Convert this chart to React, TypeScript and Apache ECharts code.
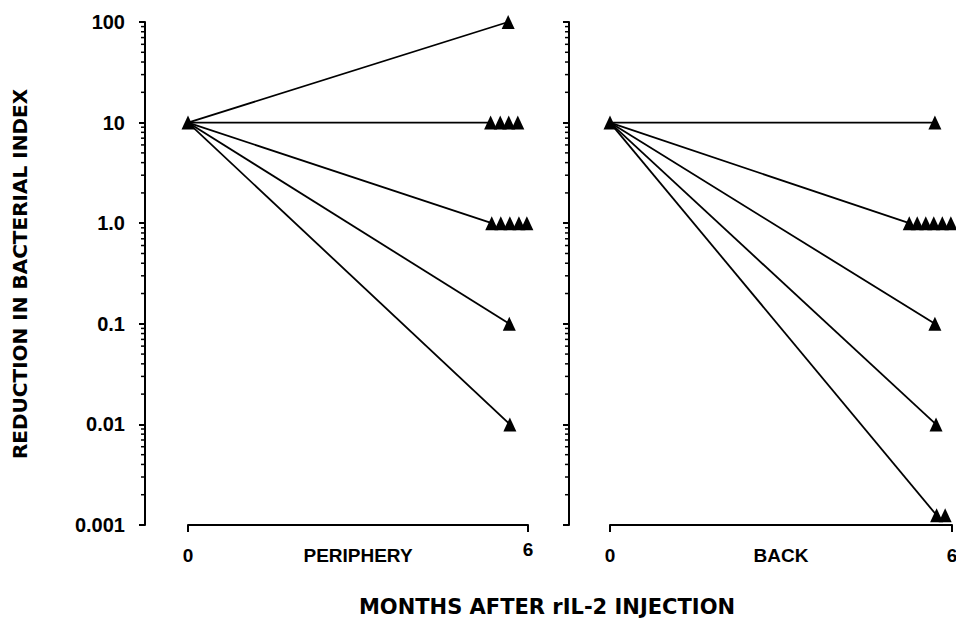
import React, { useEffect, useRef } from "react";
import * as echarts from "echarts";

// ---- data ----
const yTickLabels = ["0.001", "0.01", "0.1", "1.0", "10", "100"];
const decades = [0.001, 0.01, 0.1, 1, 10];
const minorMultipliers = [2, 3, 4, 5, 6, 7, 8, 9];
const xTickLabels = ["0", "6"];

const panelNames = ["PERIPHERY", "BACK"];

const startPoint: [number, number] = [0, 10];

// PERIPHERY: line end points (each line from start), and extra stacked triangles
const periLineEnds: [number, number][] = [
  [5.65, 100],
  [5.34, 10],
  [5.36, 1],
  [5.67, 0.1],
  [5.68, 0.01],
];
const periExtra: [number, number][] = [
  [5.51, 10],
  [5.66, 10],
  [5.82, 10],
  [5.52, 1],
  [5.68, 1],
  [5.84, 1],
  [5.98, 1],
];

// BACK
const backLineEnds: [number, number][] = [
  [5.7, 10],
  [5.25, 1],
  [5.7, 0.1],
  [5.72, 0.01],
  [5.73, 0.00125],
];
const backExtra: [number, number][] = [
  [5.39, 1],
  [5.54, 1],
  [5.68, 1],
  [5.83, 1],
  [5.98, 1],
  [5.88, 0.00125],
];

const yTitle = "REDUCTION IN BACTERIAL INDEX";
const xTitle = "MONTHS AFTER rIL-2 INJECTION";

// ---- styles ----
const FONT = "Liberation Sans, Arial, sans-serif";
const TITLE_FONT = "DejaVu Sans, sans-serif";
const grids = [
  { left: 188, width: 340, offset: 43, showYLabels: true, raiseSix: true },
  { left: 610, width: 342, offset: 41, showYLabels: false, raiseSix: false },
];
const GRID_TOP = 22;
const GRID_H = 503;

export default function App() {
  const ref = useRef<HTMLDivElement>(null);

  useEffect(() => {
    if (!ref.current) return;
    const chart = echarts.init(ref.current, undefined, { renderer: "svg" });

    const minorTicks: number[] = [];
    decades.forEach((d) => minorMultipliers.forEach((m) => minorTicks.push(d * m)));

    const fmtY = (v: number) => {
      const idx = Math.round(Math.log10(v)) + 3;
      return yTickLabels[idx] ?? "";
    };

    const panels = [
      { ends: periLineEnds, extra: periExtra },
      { ends: backLineEnds, extra: backExtra },
    ];

    const series: any[] = [];
    panels.forEach((p, gi) => {
      p.ends.forEach((e) => {
        series.push({
          type: "line",
          xAxisIndex: gi,
          yAxisIndex: gi,
          data: [startPoint, e],
          symbol: "none",
          lineStyle: { color: "#000", width: 1.8 },
          silent: true,
          z: 2,
        });
      });
      series.push({
        type: "scatter",
        xAxisIndex: gi,
        yAxisIndex: gi,
        data: [startPoint, ...p.ends, ...p.extra],
        symbol: "triangle",
        symbolSize: [13, 14],
        itemStyle: { color: "#000", opacity: 1 },
        clip: false,
        silent: true,
        z: 3,
      });
      const off = grids[gi].offset;
      series.push({
        type: "custom",
        xAxisIndex: gi,
        yAxisIndex: gi,
        clip: false,
        silent: true,
        data: minorTicks.map((v) => [0, v]),
        encode: { x: 0, y: 1 },
        renderItem: (params: any, api: any) => {
          const pt = api.coord([0, api.value(1)]);
          const ax = pt[0] - off;
          return {
            type: "line",
            shape: { x1: ax - 4, y1: pt[1], x2: ax, y2: pt[1] },
            style: { stroke: "#000", lineWidth: 1.5 },
          };
        },
      });
    });

    const option: any = {
      animation: false,
      backgroundColor: "#fff",
      grid: grids.map((g) => ({
        left: g.left,
        width: g.width,
        top: GRID_TOP,
        height: GRID_H,
        containLabel: false,
        outerBoundsMode: "none",
      })),
      xAxis: grids.map((g, i) => ({
        type: "value",
        gridIndex: i,
        min: 0,
        max: 6,
        interval: 6,
        splitLine: { show: false },
        axisLine: { show: true, onZero: false, lineStyle: { color: "#000", width: 2 } },
        axisTick: { show: true, length: 7, lineStyle: { color: "#000", width: 2 } },
        axisLabel: {
          color: "#000",
          fontSize: 19,
          fontWeight: "bold",
          fontFamily: FONT,
          margin: 21,
          formatter: (v: number) =>
            v === 0
              ? xTickLabels[0]
              : v === 6
              ? g.raiseSix
                ? `{up|${xTickLabels[1]}}`
                : xTickLabels[1]
              : "",
          rich: {
            up: {
              color: "#000",
              fontSize: 19,
              fontWeight: "bold",
              fontFamily: FONT,
              lineHeight: 6,
            },
          },
        },
        name: panelNames[i],
        nameLocation: "middle",
        nameGap: 21,
        nameMoveOverlap: false,
        nameTextStyle: { color: "#000", fontSize: 19, fontWeight: "bold", fontFamily: FONT },
      })),
      yAxis: grids.map((g, i) => ({
        type: "log",
        logBase: 10,
        gridIndex: i,
        min: 0.001,
        max: 100,
        splitNumber: 5,
        offset: g.offset,
        splitLine: { show: false },
        axisLine: { show: true, onZero: false, lineStyle: { color: "#000", width: 2 } },
        axisTick: { show: true, length: 6, lineStyle: { color: "#000", width: 2 } },
        minorTick: { show: false },
        axisLabel: {
          show: g.showYLabels,
          color: "#000",
          fontSize: 20,
          fontWeight: "bold",
          fontFamily: FONT,
          margin: 20,
          formatter: fmtY,
        },
      })),
      graphic: [
        {
          type: "text",
          x: 20,
          y: 274,
          rotation: Math.PI / 2,
          style: {
            text: yTitle,
            font: `bold 20px ${TITLE_FONT}`,
            fill: "#000",
            textAlign: "center",
            textVerticalAlign: "middle",
            verticalAlign: "middle",
          },
        },
        {
          type: "text",
          x: 547,
          y: 607,
          style: {
            text: xTitle,
            font: `bold 21px ${TITLE_FONT}`,
            fill: "#000",
            textAlign: "center",
            textVerticalAlign: "middle",
            verticalAlign: "middle",
          },
        },
      ],
      series,
    };

    chart.setOption(option);
    return () => chart.dispose();
  }, []);

  return (
    <div
      ref={ref}
      style={{ position: "fixed", left: 0, top: 0, width: 956, height: 628, background: "#fff" }}
    />
  );
}
